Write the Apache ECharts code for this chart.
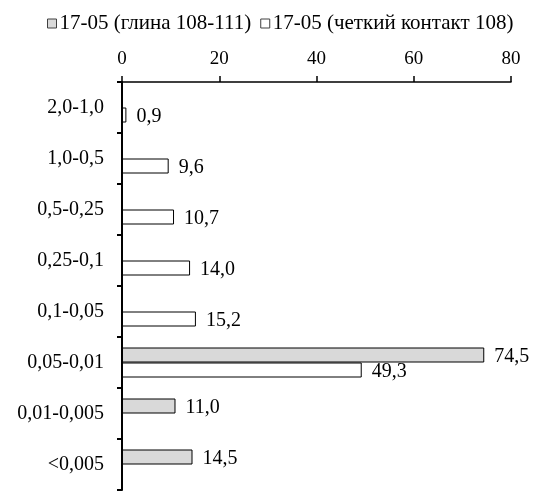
<!DOCTYPE html>
<html><head><meta charset="utf-8">
<script src="https://cdn.jsdelivr.net/npm/echarts@6/dist/echarts.min.js"></script>
<style>html,body{margin:0;padding:0;background:#fff}#c{width:540px;height:491px}</style>
</head><body><div id="c"></div>
<script>
const categories = ['2,0-1,0','1,0-0,5','0,5-0,25','0,25-0,1','0,1-0,05','0,05-0,01','0,01-0,005','<0,005'];
const seriesNames = ['17-05 (глина 108-111)','17-05 (четкий контакт 108)'];
const clayValues = [null,null,null,null,null,74.5,11.0,14.5];
const contactValues = [0.9,9.6,10.7,14.0,15.2,49.3,null,null];
const xTicks = {min:0,max:80,interval:20};

const font = 'Liberation Serif, Times New Roman, serif';
const fmt = p => p.value == null ? '' : p.value.toFixed(1).replace('.', ',');
const chart = echarts.init(document.getElementById('c'));
chart.setOption({
  animation:false,
  legend:{
    top:8,left:42,itemWidth:9,itemHeight:9,itemGap:9,
    textStyle:{fontFamily:font,fontSize:21,color:'#000',padding:[0,0,0,-2]},
    data:[
      {name:seriesNames[0],icon:'rect',itemStyle:{color:'#d9d9d9',borderColor:'#404040',borderWidth:1}},
      {name:seriesNames[1],icon:'rect',itemStyle:{color:'#ffffff',borderColor:'#404040',borderWidth:1}}
    ]
  },
  grid:{left:122,top:82,right:29,bottom:1,containLabel:false},
  xAxis:{
    type:'value',position:'top',min:xTicks.min,max:xTicks.max,interval:xTicks.interval,
    axisLine:{show:true,lineStyle:{color:'#000',width:1.5}},
    axisTick:{show:true,inside:false,length:6,lineStyle:{color:'#000',width:1.5}},
    axisLabel:{fontFamily:font,fontSize:19,color:'#000',margin:13},
    splitLine:{show:false}
  },
  yAxis:{
    type:'category',inverse:true,data:categories,
    axisLine:{show:true,lineStyle:{color:'#000',width:2}},
    axisTick:{show:true,inside:false,length:5,lineStyle:{color:'#000',width:2}},
    axisLabel:{fontFamily:font,fontSize:20,color:'#000',margin:18}
  },
  series:[
    {name:seriesNames[0],type:'bar',data:clayValues,barWidth:15,barGap:'0%',
     itemStyle:{color:'#d9d9d9',borderColor:'#000',borderWidth:1},
     label:{show:true,position:'right',distance:10,fontFamily:font,fontSize:20,color:'#000',formatter:fmt,offset:[0,2]}},
    {name:seriesNames[1],type:'bar',data:contactValues,barWidth:15,barGap:'0%',
     itemStyle:{color:'#ffffff',borderColor:'#000',borderWidth:1},
     label:{show:true,position:'right',distance:10,fontFamily:font,fontSize:20,color:'#000',formatter:fmt,offset:[0,2]}}
  ]
});
</script></body></html>
